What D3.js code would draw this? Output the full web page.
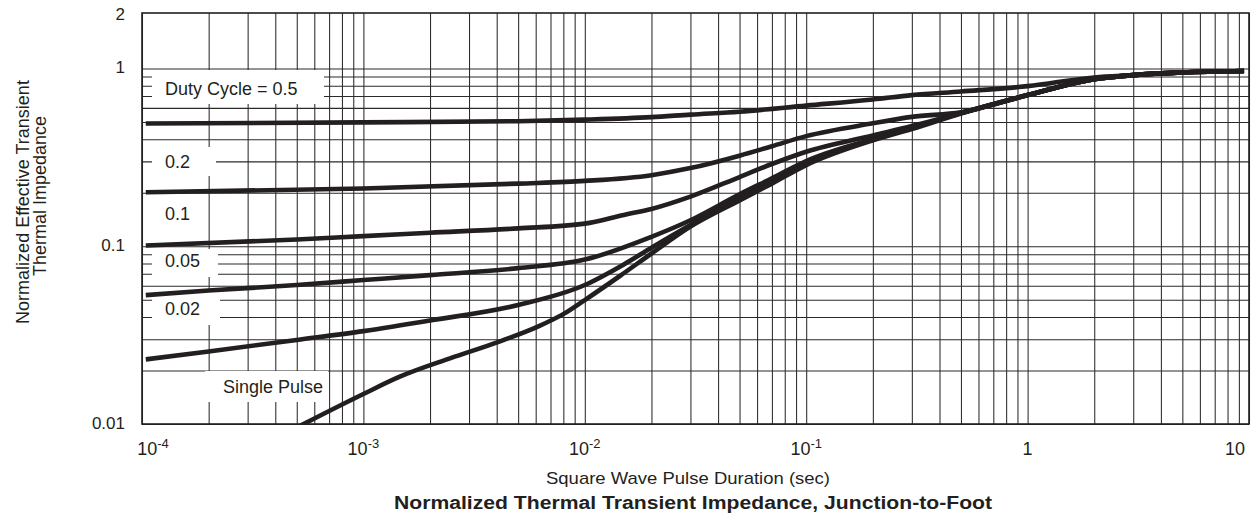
<!DOCTYPE html>
<html>
<head>
<meta charset="utf-8">
<script src="https://cdn.jsdelivr.net/npm/d3@7"></script>
<style>
  body { margin: 0; background: #fff; }
  svg { display: block; }
  text { font-family: "Liberation Sans", Arial, Helvetica, sans-serif; fill: #231f20; }
</style>
</head>
<body>
<svg id="chart" width="1255" height="516"></svg>
<script>
// Pulse duration (s) vs normalized effective transient thermal impedance
const duty05 = [[1.04e-4, 0.49], [1e-3, 0.497], [5e-3, 0.505], [1e-2, 0.515], [2e-2, 0.532], [3e-2, 0.55],
  [5e-2, 0.571], [0.1, 0.618], [0.2, 0.669], [0.3, 0.708], [0.5, 0.742], [1, 0.795], [2, 0.89], [3, 0.917],
  [5, 0.95], [9.5, 0.968]];
const duty02 = [[1.04e-4, 0.201], [1e-3, 0.211], [5e-3, 0.225], [1e-2, 0.233], [2e-2, 0.251], [3e-2, 0.275],
  [5e-2, 0.323], [7e-2, 0.365], [0.1, 0.416], [0.2, 0.491], [0.3, 0.534], [0.5, 0.567], [1, 0.708], [2, 0.87],
  [3, 0.917], [5, 0.95], [9.5, 0.968]];
const duty01 = [[1.04e-4, 0.101], [5e-4, 0.109], [1e-3, 0.114], [2e-3, 0.119], [5e-3, 0.126], [1e-2, 0.134],
  [1.5e-2, 0.15], [2e-2, 0.162], [3e-2, 0.19], [5e-2, 0.245], [7e-2, 0.29], [0.1, 0.34], [0.2, 0.42],
  [0.3, 0.474], [0.5, 0.562], [1, 0.708], [2, 0.87], [3, 0.917], [5, 0.95], [9.5, 0.968]];
const duty005 = [[1.04e-4, 0.0531], [2e-4, 0.0563], [5e-4, 0.0605], [1e-3, 0.0645], [2e-3, 0.0688],
  [5e-3, 0.0753], [1e-2, 0.0841], [2e-2, 0.113], [3e-2, 0.14], [5e-2, 0.196], [7e-2, 0.241], [0.1, 0.301],
  [0.2, 0.4], [0.3, 0.462], [0.5, 0.561], [1, 0.708], [2, 0.87], [3, 0.917], [5, 0.95], [9.5, 0.968]];
const duty002 = [[1.04e-4, 0.0231], [2e-4, 0.0256], [5e-4, 0.0297], [1e-3, 0.0333], [2e-3, 0.0382],
  [5e-3, 0.0467], [1e-2, 0.0605], [1.5e-2, 0.079], [2e-2, 0.098], [3e-2, 0.1315], [5e-2, 0.186], [7e-2, 0.229],
  [0.1, 0.29], [0.2, 0.398], [0.3, 0.462], [0.5, 0.561], [1, 0.708], [2, 0.87], [3, 0.917], [5, 0.95],
  [9.5, 0.968]];
const singlePulse = [[5.2e-4, 0.0098], [1e-3, 0.01475], [1.46e-3, 0.01845], [2.46e-3, 0.0234], [4.08e-3, 0.029],
  [6.1e-3, 0.0352], [8.1e-3, 0.0419], [1e-2, 0.0498], [1.44e-2, 0.068], [2e-2, 0.091], [3e-2, 0.129],
  [5e-2, 0.181], [7e-2, 0.225], [0.1, 0.286], [0.2, 0.394], [0.3, 0.456], [0.5, 0.558], [1, 0.706],
  [2, 0.87], [3, 0.917], [5, 0.95], [9.5, 0.968]];

const curveLabels = ["Duty Cycle = 0.5", "0.2", "0.1", "0.05", "0.02", "Single Pulse"];

const xTickValues = [1e-4, 1e-3, 1e-2, 1e-1, 1, 10];
const xTickBase = ["10", "10", "10", "10", "1", "10"];
const xTickExp = ["-4", "-3", "-2", "-1", "", ""];
const yTickValues = [0.01, 0.1, 1, 2];
const yTickLabels = ["0.01", "0.1", "1", "2"];

const xTitle = "Square Wave Pulse Duration (sec)";
const chartTitle = "Normalized Thermal Transient Impedance, Junction-to-Foot";
const yTitle = ["Normalized Effective Transient", "Thermal Impedance"];

// ---- layout ----
const ink = "#231f20";
const plot = { left: 142, right: 1249, top: 13, bottom: 424 };
const svg = d3.select("#chart");

const x = d3.scaleLog().domain([1e-4, 10]).range([plot.left, plot.right]);
const y = d3.scaleLog().domain([0.01, 2.05]).range([plot.bottom, plot.top]);

// minor + major grid values (1..9 per decade)
const gridX = [];
for (let k = -4; k <= 0; k++) for (let m = 1; m <= 9; m++) gridX.push(m * Math.pow(10, k));
gridX.push(10);
const gridY = [];
for (let k = -2; k <= -1; k++) for (let m = 1; m <= 9; m++) gridY.push(m * Math.pow(10, k));
gridY.push(1);

const grid = svg.append("g");
grid.append("g")
  .attr("transform", `translate(0,${plot.bottom})`)
  .call(d3.axisBottom(x).tickValues(gridX).tickSize(-(plot.bottom - plot.top)).tickFormat(""))
  .call(g => g.select(".domain").remove());
grid.append("g")
  .attr("transform", `translate(${plot.left},0)`)
  .call(d3.axisLeft(y).tickValues(gridY).tickSize(-(plot.right - plot.left)).tickFormat(""))
  .call(g => g.select(".domain").remove());
grid.selectAll("line").attr("stroke", "#2a2a2a").attr("stroke-width", 1.05);

// white backing boxes behind the curve labels
const labelBoxes = [
  { x0: 152, x1: 324, y0: 70, y1: 104, tx: 165, ty: 95 },
  { x0: 152, x1: 216, y0: 147, y1: 176, tx: 165, ty: 168 },
  { x0: 152, x1: 206, y0: 198, y1: 231, tx: 165, ty: 219.5 },
  { x0: 152, x1: 218, y0: 249, y1: 277, tx: 165, ty: 266.5 },
  { x0: 152, x1: 220, y0: 290, y1: 325, tx: 165, ty: 315 },
  { x0: 205, x1: 328, y0: 371, y1: 402, tx: 223, ty: 392.5 }
];
svg.append("g").selectAll("rect").data(labelBoxes).join("rect")
  .attr("x", d => d.x0).attr("y", d => d.y0)
  .attr("width", d => d.x1 - d.x0).attr("height", d => d.y1 - d.y0)
  .attr("fill", "#fff");

// frame
svg.append("rect")
  .attr("x", plot.left).attr("y", plot.top)
  .attr("width", plot.right - plot.left).attr("height", plot.bottom - plot.top)
  .attr("fill", "none").attr("stroke", ink).attr("stroke-width", 1.6);

// curves
svg.append("clipPath").attr("id", "plotClip").append("rect")
  .attr("x", plot.left).attr("y", plot.top)
  .attr("width", plot.right - plot.left).attr("height", plot.bottom - plot.top);

const line = d3.line().x(d => x(d[0])).y(d => y(d[1])).curve(d3.curveMonotoneX);
const series = [duty05, duty02, duty01, duty005, duty002, singlePulse];
svg.append("g").attr("clip-path", "url(#plotClip)")
  .selectAll("path").data(series).join("path")
  .attr("d", line)
  .attr("fill", "none").attr("stroke", ink).attr("stroke-width", 4.6)
  .attr("stroke-linejoin", "round");

// curve labels
svg.append("g").selectAll("text").data(labelBoxes).join("text")
  .attr("x", d => d.tx).attr("y", d => d.ty)
  .attr("font-size", 18)
  .text((d, i) => curveLabels[i]);

// y tick labels
svg.append("g").selectAll("text").data(yTickValues).join("text")
  .attr("x", 125).attr("y", d => y(d) + 5)
  .attr("text-anchor", "end").attr("font-size", 17)
  .text((d, i) => yTickLabels[i]);

// x tick labels (power-of-ten with superscript)
const xl = svg.append("g").selectAll("text").data(xTickValues).join("text")
  .attr("x", d => Math.max(153, Math.min(1235, x(d))))
  .attr("y", 455)
  .attr("text-anchor", "middle").attr("font-size", 18);
xl.append("tspan").text((d, i) => xTickBase[i]);
xl.append("tspan").attr("dy", -7).attr("font-size", 13).text((d, i) => xTickExp[i]);

// axis titles
svg.append("text").attr("x", 688).attr("y", 483.5).attr("text-anchor", "middle")
  .attr("font-size", 17).attr("textLength", 284).attr("lengthAdjust", "spacingAndGlyphs")
  .text(xTitle);
svg.append("text").attr("x", 693).attr("y", 509).attr("text-anchor", "middle")
  .attr("font-size", 18).attr("font-weight", "bold")
  .attr("textLength", 598).attr("lengthAdjust", "spacingAndGlyphs")
  .text(chartTitle);

const yTitleCenters = [202, 196];
svg.append("g").selectAll("text").data(yTitle).join("text")
  .attr("transform", (d, i) => `translate(${28.5 + i * 17.5},${yTitleCenters[i]}) rotate(-90)`)
  .attr("text-anchor", "middle").attr("font-size", 18)
  .text(d => d);
</script>
</body>
</html>
